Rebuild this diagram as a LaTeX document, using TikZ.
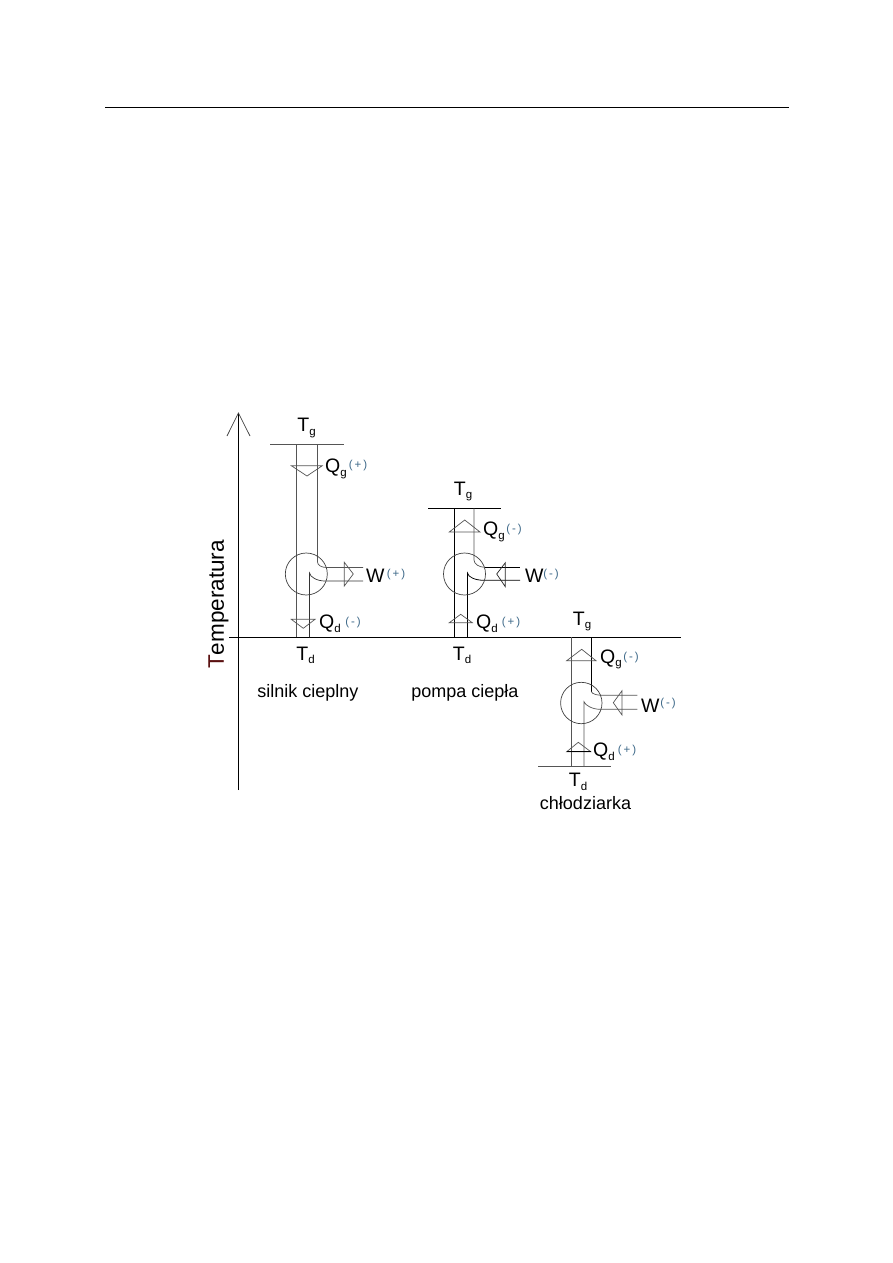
\documentclass[tikz,border=0pt]{standalone}
\usepackage{fontspec}
\setmainfont{Liberation Sans}
\definecolor{lg}{HTML}{555555}
\definecolor{sgn}{HTML}{3F6A8A}
\definecolor{tm}{HTML}{5A1010}
\newcommand{\fs}{\fontsize{19.5}{21}\selectfont}
\newcommand{\sbs}[2]{{\fs #1\raisebox{-3.5pt}{\fontsize{11.5}{13}\selectfont #2}}}
\newcommand{\sgnn}[1]{{\fontsize{11.5}{13}\selectfont\color{sgn}(\,#1\,)}}
\tikzset{
 x=1pt,y=-1pt,
 blk/.style={draw=black,line width=0.75pt},
 gry/.style={draw=lg,line width=0.7pt},
 lbl/.style={inner sep=0pt,anchor=center,text=black},
 labl/.style={inner sep=0pt,anchor=west,text=black},
 sgnl/.style={inner sep=0pt,anchor=center},
}
\begin{document}
\begin{tikzpicture}
\useasboundingbox (0,0) rectangle (893,1263);
\fill[white] (0,0) rectangle (893,1263);
\coordinate (ruleL) at (105,107); \coordinate (ruleR) at (789,107);
\draw[blk] (ruleL) -- (ruleR);
% axes
\coordinate (axT) at (238.4,413); \coordinate (axB) at (238.4,790);
\coordinate (axL) at (229,637.4); \coordinate (axR) at (681,637.4);
\draw[blk] (axB) -- (axT);
\draw[gry,draw=black!75] (227,436) -- (axT) -- (250,436);
\draw[blk] (axL) -- (axR);
\node[lbl,rotate=90] (temp) at (218.5,604.5) {\fontsize{22.5}{24}\selectfont{\color{tm}T}emperatura};

% silnik cieplny
\draw[gry] (270,444) -- (344,444);
\draw[gry] (296.5,444) -- (296.5,637.4);
\draw[gry] (317.5,444) -- (317.5,562) .. controls (317.5,565.5) and (322,567.5) .. (327,567.5) -- (363,567.5);
\draw[gry,draw=black!80] (309.5,637.4) -- (309.5,573) .. controls (310,577) and (317,581) .. (325,581) -- (363,581);
\draw[gry,draw=black!75] (306.3,574) circle (21);
\draw[gry] (291.3,465.7) -- (322.3,465.7) -- (307,476) -- cycle;
\draw[gry] (291.3,619.3) -- (315,619.3) -- (303.3,628.3) -- cycle;
\draw[gry] (344.3,562.3) -- (344.3,586) -- (353.3,574) -- cycle;
\node[lbl] (s1tg) at (306.5,428) {\sbs{T}{g}};
\node[labl] (s1qg) at (325,469) {\sbs{Q}{g}};
\node[sgnl] (s1qgs) at (358,466) {\sgnn{+}};
\node[labl] (s1w) at (366,576) {\fs W};
\node[sgnl] (s1ws) at (396,575) {\sgnn{+}};
\node[labl] (s1qd) at (319,624) {\sbs{Q}{d}};
\node[sgnl] (s1qds) at (353,623) {\sgnn{-}};
\node[lbl] (s1td) at (305.5,655.5) {\sbs{T}{d}};
\node[lbl] (s1n) at (308,692.5) {\fontsize{18}{20}\selectfont silnik cieplny};

% pompa ciepla
\draw[blk] (428,508.3) -- (501,508.3);
\draw[blk] (454.3,508.3) -- (454.3,637.4);
\draw[gry] (474,508.3) -- (474,560) .. controls (474,564) and (479,567.3) .. (485,567.3);
\draw[blk] (485,567.3) -- (520,567.3);
\draw[blk] (467.5,637.4) -- (467.5,573) .. controls (468,577) and (475,580.3) .. (484,580.3) -- (520,580.3);
\draw[gry,draw=black!75] (464.5,574) circle (21);
\draw[gry] (449.3,532) -- (480,532) -- (464.7,520) -- cycle;
\draw[gry] (449.3,622.7) -- (472.3,622.7) -- (460.7,614.3) -- cycle;
\draw[gry,draw=black!85] (505.3,562.7) -- (505.3,586.7) -- (496.7,574) -- cycle;
\node[lbl] (s2tg) at (463,491.5) {\sbs{T}{g}};
\node[labl] (s2qg) at (483,532) {\sbs{Q}{g}};
\node[sgnl] (s2qgs) at (514,530) {\sgnn{-}};
\node[labl] (s2w) at (525,576) {\fs W};
\node[sgnl] (s2ws) at (551,575) {\sgnn{-}};
\node[labl] (s2qd) at (476,624) {\sbs{Q}{d}};
\node[sgnl] (s2qds) at (511,623) {\sgnn{+}};
\node[lbl] (s2td) at (462,655.5) {\sbs{T}{d}};
\node[lbl] (s2n) at (465,692.5) {\fontsize{18}{20}\selectfont pompa ciepła};

% chlodziarka
\draw[gry] (538,766) -- (611,766);
\draw[gry] (571.7,637.4) -- (571.7,766);
\draw[blk] (591.3,637.4) -- (591.3,691.5);
\draw[gry] (591.3,691.5) .. controls (592,694) and (597,695.3) .. (602,695.3) -- (637.3,695.3);
\draw[gry] (584,766) -- (584,701.7) .. controls (585,705) and (592,709.3) .. (600,709.3) -- (637.3,709.3);
\draw[gry,draw=black!75] (581.3,703) circle (20.7);
\draw[gry] (566.7,660.7) -- (596,660.7) -- (581.7,649.3) -- cycle;
\draw[gry] (566.7,751.7) -- (590.7,751.7) -- (578.3,742.3) -- cycle;
\draw[blk] (566.7,751.7) -- (590.7,751.7);
\draw[gry] (622,690.7) -- (622,715) -- (613.3,702.7) -- cycle;
\node[lbl] (s3tg) at (582,621.5) {\sbs{T}{g}};
\node[labl] (s3qg) at (600,659.5) {\sbs{Q}{g}};
\node[sgnl] (s3qgs) at (631,657.5) {\sgnn{-}};
\node[labl] (s3w) at (641,705.5) {\fs W};
\node[sgnl] (s3ws) at (668,704) {\sgnn{-}};
\node[labl] (s3qd) at (593,752) {\sbs{Q}{d}};
\node[sgnl] (s3qds) at (627,751) {\sgnn{+}};
\node[lbl] (s3td) at (578,782) {\sbs{T}{d}};
\node[lbl] (s3n) at (585.5,803) {\fontsize{18}{20}\selectfont chłodziarka};
\end{tikzpicture}
\end{document}
